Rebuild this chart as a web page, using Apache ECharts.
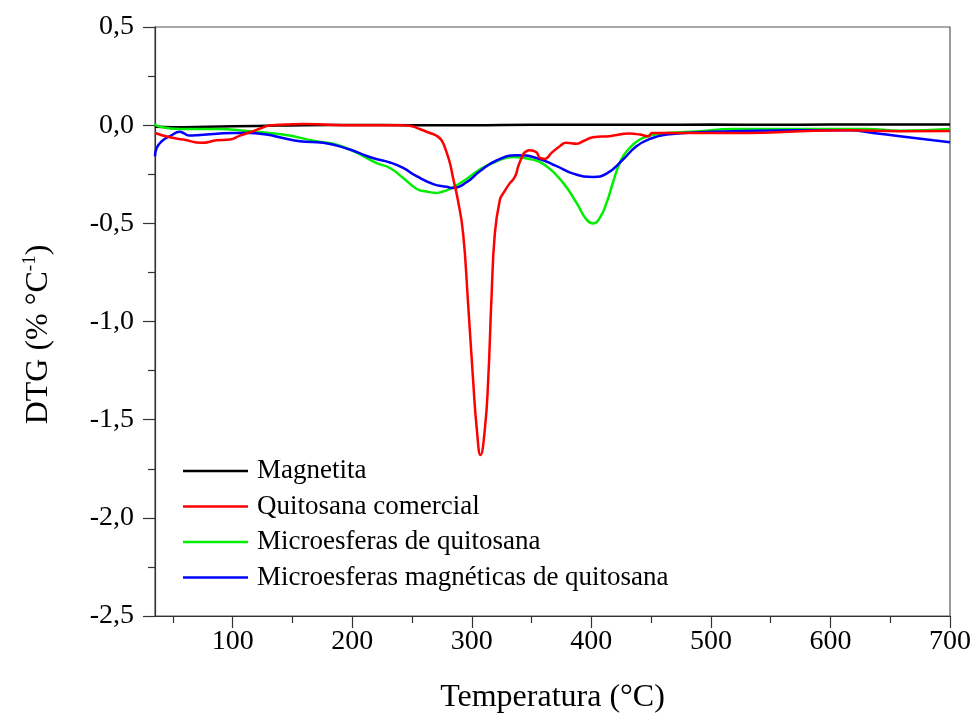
<!DOCTYPE html>
<html>
<head>
<meta charset="utf-8">
<script src="https://cdn.jsdelivr.net/npm/echarts@6/dist/echarts.min.js"></script>
<style>
  html, body { margin: 0; padding: 0; background: #fff; }
  #chart { width: 976px; height: 719px; }
</style>
</head>
<body>
<div id="chart"></div>
<script>
// DTG curves (% per °C) against temperature (°C)
const magnetitaT = [35, 50, 80, 120, 160, 200, 250, 300, 350, 400, 450, 500, 550, 600, 650, 700];
const magnetitaV = [-0.008, -0.01, -0.008, -0.004, 0.0, 0.001, 0.0, 0.0, 0.002, 0.002, 0.002, 0.003, 0.002, 0.003, 0.003, 0.004];

const quitosanaT = [35, 47.5, 58.7, 74, 86.6, 97.7, 106, 115, 123, 131, 145, 160, 180, 200, 220, 240, 248, 254, 259, 265, 271, 275, 279, 282, 284, 288.3, 292.7, 296.7, 301.1, 304.2, 307.3, 310.9, 313.7, 316.4, 319.3, 323.5, 326.5, 332, 334.6, 337, 338.8, 341.6, 344.4, 348.5, 354, 357, 361, 366.7, 373.6, 379, 387.6, 393, 401.5, 415, 432, 440.5, 447.5, 451, 490, 532, 574, 616, 658, 700];
const quitosanaV = [-0.04, -0.062, -0.073, -0.09, -0.077, -0.073, -0.053, -0.035, -0.017, -0.002, 0.003, 0.006, 0.002, 0.0, 0.0, 0.0, -0.003, -0.014, -0.026, -0.04, -0.056, -0.08, -0.14, -0.2, -0.26, -0.38, -0.55, -0.89, -1.3, -1.55, -1.68, -1.55, -1.3, -0.89, -0.55, -0.38, -0.345, -0.294, -0.277, -0.25, -0.21, -0.167, -0.138, -0.128, -0.138, -0.167, -0.172, -0.141, -0.107, -0.09, -0.095, -0.082, -0.062, -0.056, -0.043, -0.048, -0.056, -0.04, -0.04, -0.04, -0.031, -0.026, -0.031, -0.03];

const microT = [35, 37, 56, 87, 114, 142, 170, 187, 204, 220, 231.5, 242.6, 254, 262, 270.5, 276, 281.7, 292.8, 306.7, 320.7, 334.6, 348.5, 362.5, 376.4, 387.6, 396, 401.5, 407, 412.7, 418, 423.8, 432, 440.5, 449, 463, 490.7, 518, 574, 630, 658, 700];
const microV = [0.008, -0.005, -0.019, -0.019, -0.031, -0.048, -0.082, -0.099, -0.141, -0.192, -0.218, -0.269, -0.325, -0.338, -0.345, -0.338, -0.325, -0.286, -0.226, -0.184, -0.162, -0.172, -0.209, -0.294, -0.396, -0.481, -0.501, -0.473, -0.396, -0.294, -0.192, -0.116, -0.073, -0.053, -0.04, -0.031, -0.019, -0.019, -0.019, -0.028, -0.019];

const microMagT = [35, 36.4, 40.6, 47.5, 56, 58.7, 64, 72.6, 100.5, 114, 128, 142, 156, 175.7, 198, 209, 220, 231.5, 242.6, 253.8, 267.7, 279, 284.4, 295.6, 306.7, 320.7, 337.4, 354, 371, 384.8, 401.5, 412.7, 426.5, 437.7, 449, 463, 490.7, 518, 574, 616, 635.6, 658, 686, 700];
const microMagV = [-0.158, -0.116, -0.082, -0.056, -0.034, -0.04, -0.053, -0.05, -0.04, -0.04, -0.048, -0.065, -0.082, -0.09, -0.124, -0.15, -0.172, -0.19, -0.218, -0.26, -0.3, -0.314, -0.32, -0.291, -0.235, -0.18, -0.153, -0.167, -0.209, -0.247, -0.264, -0.247, -0.175, -0.107, -0.07, -0.048, -0.036, -0.031, -0.026, -0.026, -0.04, -0.056, -0.077, -0.087];

const majorTicksX = [100, 200, 300, 400, 500, 600, 700];
const minorTicksX = [50, 150, 250, 350, 450, 550, 650];

const seriesNames = ['Magnetita', 'Quitosana comercial', 'Microesferas de quitosana', 'Microesferas magnéticas de quitosana'];

const pairs = (xs, ys) => xs.map((x, i) => [x, ys[i]]);
const FONT = 'Liberation Serif';

const chart = echarts.init(document.getElementById('chart'), null, { renderer: 'canvas' });

function lineSeries(name, data, color) {
  return {
    name: name,
    type: 'line',
    xAxisIndex: 0,
    yAxisIndex: 0,
    data: data,
    showSymbol: false,
    symbol: 'none',
    smooth: 0.5,
    lineStyle: { color: color, width: 2.5 },
    itemStyle: { color: color },
    emphasis: { disabled: true },
    animation: false
  };
}

chart.setOption({
  animation: false,
  backgroundColor: '#ffffff',
  grid: {
    left: 155, right: 26, top: 27, bottom: 103,
    show: true, borderColor: '#555', borderWidth: 1.2, backgroundColor: 'transparent'
  },
  legend: {
    data: seriesNames,
    orient: 'vertical',
    left: 178,
    top: 452,
    icon: 'rect',
    itemWidth: 65,
    itemHeight: 2.5,
    itemGap: 7.5,
    textStyle: { fontFamily: FONT, fontSize: 27, color: '#000', lineHeight: 28, padding: [0, 0, 0, 4] },
    selectedMode: false
  },
  xAxis: [{
    type: 'value',
    min: 35, max: 700,
    name: 'Temperatura (°C)',
    nameLocation: 'middle',
    nameGap: 66,
    nameTextStyle: { fontFamily: FONT, fontSize: 32, color: '#000' },
    axisLine: { show: true, onZero: false, lineStyle: { color: '#333', width: 1.2 } },
    axisTick: { show: true, customValues: majorTicksX, length: 12, lineStyle: { color: '#333', width: 1.2 } },
    axisLabel: { customValues: majorTicksX, fontFamily: FONT, fontSize: 28, color: '#000', margin: 12 },
    splitLine: { show: false }
  }, {
    type: 'value',
    min: 35, max: 700,
    position: 'bottom',
    axisLine: { show: false, onZero: false },
    axisTick: { show: true, customValues: minorTicksX, length: 7, lineStyle: { color: '#333', width: 1.2 } },
    axisLabel: { show: false },
    splitLine: { show: false }
  }],
  yAxis: {
    type: 'value',
    min: -2.5, max: 0.5, interval: 0.5,
    name: 'DTG (% °C{sup|-1})',
    nameLocation: 'middle',
    nameGap: 98,
    nameRotate: 90,
    nameTextStyle: {
      fontFamily: FONT, fontSize: 32, color: '#000', lineHeight: 36, padding: [0, 26, 0, 0],
      rich: { sup: { fontFamily: FONT, fontSize: 19, color: '#000', verticalAlign: 'top', lineHeight: 36 } }
    },
    axisLine: { show: true, onZero: false, lineStyle: { color: '#333', width: 1.2 } },
    axisTick: { show: true, length: 12, lineStyle: { color: '#333', width: 1.2 } },
    minorTick: { show: true, splitNumber: 2, length: 7, lineStyle: { color: '#333', width: 1.2 } },
    axisLabel: {
      fontFamily: FONT, fontSize: 28, color: '#000', margin: 21,
      formatter: v => v.toFixed(1).replace('.', ',')
    },
    splitLine: { show: false }
  },
  series: [
    lineSeries(seriesNames[0], pairs(magnetitaT, magnetitaV), '#000000'),
    lineSeries(seriesNames[2], pairs(microT, microV), '#00ee00'),
    lineSeries(seriesNames[3], pairs(microMagT, microMagV), '#0000ff'),
    lineSeries(seriesNames[1], pairs(quitosanaT, quitosanaV), '#ff0000')
  ]
});
</script>
</body>
</html>
